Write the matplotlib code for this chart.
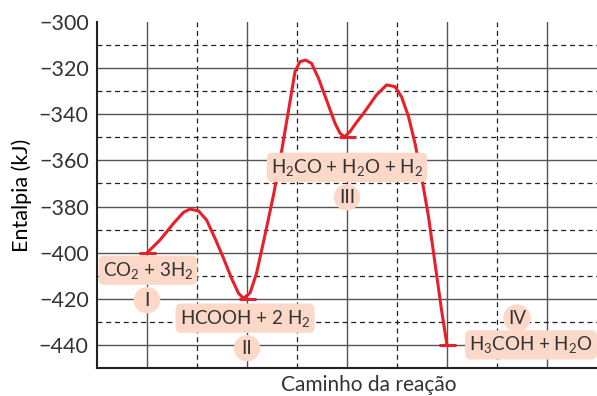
import matplotlib
matplotlib.use("Agg")
import matplotlib.pyplot as plt

# ─── STYLE ──────────────────────────────────────────────────────────────
plt.rcParams.update({
    "font.family": "Lato",
    "mathtext.fontset": "custom",
    "mathtext.rm": "Lato",
    "mathtext.it": "Lato:italic",
    "font.size": 13,
    "text.color": "#333333",
})

# ─── DATA ───────────────────────────────────────────────────────────────
# reaction path (x = path position, y = enthalpy kJ)
path_x = [0.99, 1.26, 1.53, 1.73, 1.86, 2.03, 2.19, 2.36, 2.53, 2.69, 2.83, 2.93,
          3.06, 3.19, 3.36, 3.53, 3.69, 3.86, 3.96, 4.06, 4.17, 4.29, 4.43, 4.59,
          4.76, 4.86, 4.95, 5.06, 5.18, 5.33, 5.59, 5.79, 5.96, 6.09, 6.23, 6.36,
          6.49, 6.63, 6.76, 6.89, 7.0]
path_y = [-400.3, -394.5, -387.3, -382.5, -381.1, -381.9, -385.8, -393.8, -402.4, -411.1, -417.6, -419.8,
          -417.5, -409, -392.3, -375, -356.2, -334.5, -321.5, -317.2, -316.5, -317.9, -324.4, -333.8,
          -343.9, -348.2, -349.8, -347.5, -343.8, -339.6, -331.6, -327.3, -328, -332.4, -341, -352.6,
          -367, -384.4, -404.6, -424.8, -440]

# stable species levels
level_x = [1, 3, 5, 7]
level_y = [-400, -420, -350, -440]

species = [r"CO$_2$ + 3H$_2$", r"HCOOH + 2 H$_2$",
           r"H$_2$CO + H$_2$O + H$_2$", r"H$_3$COH + H$_2$O"]
species_x = [1.02, 2.96, 5.0, 8.68]
species_y = [-407.6, -428.4, -363.0, -440.0]

numerals = ["I", "II", "III", "IV"]
numeral_x = [1.0, 3.0, 5.0, 8.4]
numeral_y = [-420.6, -441.4, -376.0, -428.4]

yticks = [-300, -320, -340, -360, -380, -400, -420, -440]

# ─── PLOT ───────────────────────────────────────────────────────────────
fig = plt.figure(figsize=(5.97, 3.96), dpi=100)
ax = fig.add_axes([0.1625, 0.0707, 0.8375, 0.8737])
ax.set_xlim(0, 10)
ax.set_ylim(-450, -300)

# grid
for x in [1, 3, 5, 7, 9]:
    ax.axvline(x, color="#555555", lw=1.0, zorder=1)
for x in [2, 4, 6, 8]:
    ax.axvline(x, color="#222222", lw=0.9, ls=(0, (4, 3)), zorder=1)
for y in [-320, -340, -360, -380, -400, -420, -440]:
    ax.axhline(y, color="#555555", lw=1.0, zorder=1)
for y in [-310, -330, -350, -370, -390, -410, -430]:
    ax.axhline(y, color="#222222", lw=0.9, ls=(0, (4, 3)), zorder=1)

# curve and level bars
ax.plot(path_x, path_y, color="#e8202a", lw=2.2, zorder=3,
        solid_joinstyle="round", solid_capstyle="round")
ax.hlines(level_y, [x - 0.17 for x in level_x], [x + 0.17 for x in level_x],
          color="#e8202a", lw=2.2, zorder=3)

box = dict(boxstyle="round,pad=0.22,rounding_size=0.3", fc="#fbd8c8", ec="none")
for s, x, y in zip(species, species_x, species_y):
    ax.text(x, y, s, ha="center", va="center", fontsize=13.5, bbox=box, zorder=4)

circ = dict(boxstyle="circle,pad=0.25", fc="#fbd8c8", ec="none")
for s, x, y in zip(numerals, numeral_x, numeral_y):
    ax.text(x, y, s, ha="center", va="center", fontsize=13.5, bbox=circ, zorder=4)

# axes
ax.set_xticks([])
ax.set_yticks(yticks)
ax.set_yticklabels([f"\u2212{abs(v)}" for v in yticks], fontsize=15.5)
ax.tick_params(axis="y", length=0, pad=6, colors="#333333")
for side in ["top", "right"]:
    ax.spines[side].set_visible(False)
for side in ["left", "bottom"]:
    ax.spines[side].set_linewidth(1.5)
    ax.spines[side].set_color("#222222")

ax.set_ylabel("Entalpia (kJ)", fontsize=15.5, labelpad=5)
fig.text(369 / 597, 1 - 385 / 396, "Caminho da reação", ha="center", va="center",
         fontsize=15)

fig.savefig("out.png", dpi=100)
